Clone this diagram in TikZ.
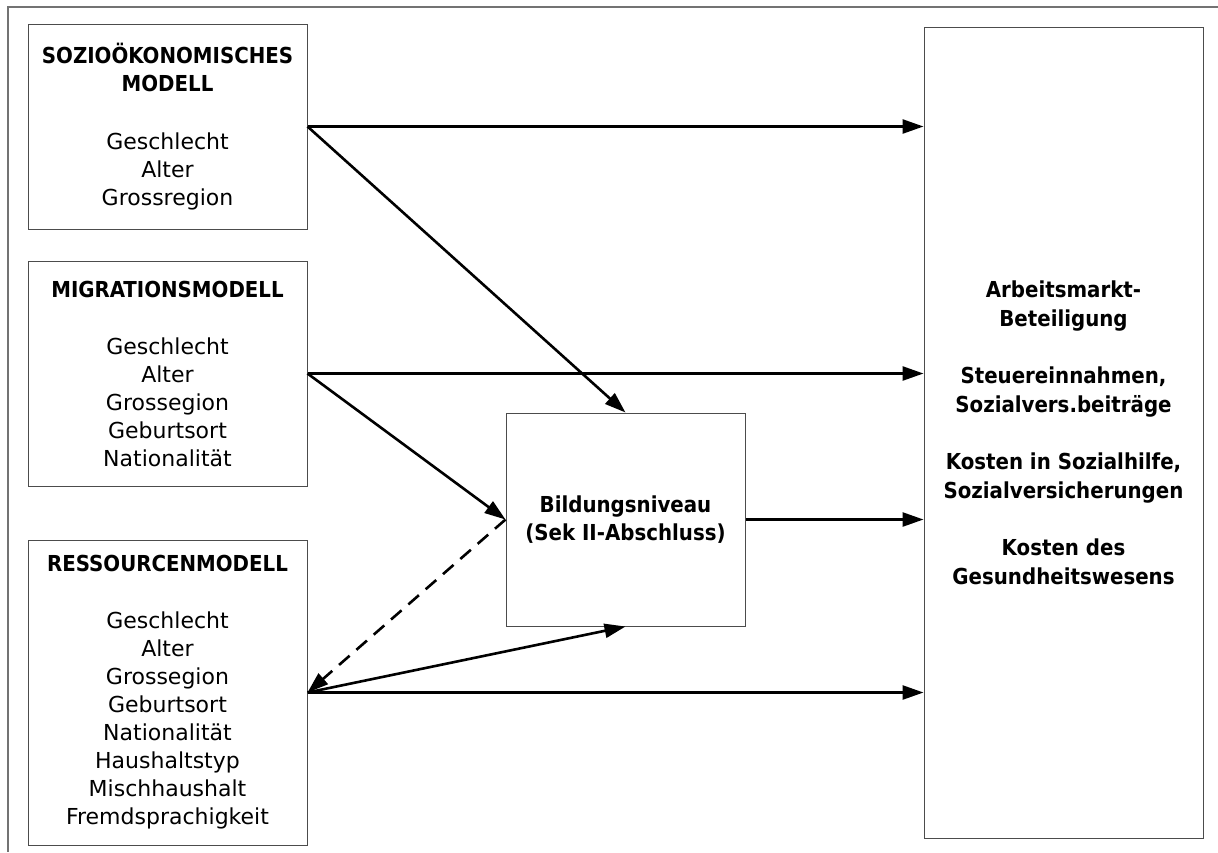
\documentclass[tikz,border=0pt]{standalone}
\usepackage{fontspec}
\setmainfont{DejaVu Sans}
\newfontfamily\hdfont{DejaVu Sans Condensed Bold}
\usetikzlibrary{arrows.meta, positioning}
\newcommand\hd[1]{{\hdfont #1}}

\begin{document}
\begin{tikzpicture}[
  x=0.5pt, y=-0.5pt,
  >={Triangle[length=10.5pt, width=7pt]},
  modnode/.style  = {draw=black!70, line width=0.5pt, inner sep=0pt,
                     minimum width=139.5pt, align=center,
                     font=\fontsize{11}{14}\selectfont},
  midnode/.style  = {draw=black!70, line width=0.5pt, inner sep=0pt,
                     minimum width=119.5pt, minimum height=106.5pt,
                     align=center, font=\hdfont\fontsize{11}{14}\selectfont},
  outnode/.style  = {draw=black!70, line width=0.5pt, inner sep=0pt,
                     minimum width=139.5pt, minimum height=405.5pt,
                     align=center, font=\hdfont\fontsize{11}{14.5}\selectfont},
  arr/.style     = {->, line width=1.3pt},
  dasharr/.style = {arr, dash pattern=on 7pt off 4.5pt},
]
\useasboundingbox (0,0) rectangle (1218,852);

% =============================================
% FRAME
% =============================================
\draw[black!55, line width=1pt] (1218,7) -- (8,7) -- (8,852);

% =============================================
% MODELS (left)
% =============================================
\node[modnode, minimum height=102.5pt] (socio) at (167.5,126.5)
  {\hd{SOZIOÖKONOMISCHES}\\\hd{MODELL}\\[15pt]Geschlecht\\Alter\\Grossregion};
\node[modnode, minimum height=112.5pt] (mig) at (167.5,373.5)
  {\hd{MIGRATIONSMODELL}\\[14.5pt]Geschlecht\\Alter\\Grossegion\\Geburtsort\\Nationalität};
\node[modnode, minimum height=152.5pt] (res) at (167.5,692.5)
  {\hd{RESSOURCENMODELL}\\[14.5pt]Geschlecht\\Alter\\Grossegion\\Geburtsort\\Nationalität\\Haushaltstyp\\Mischhaushalt\\Fremdsprachigkeit};

% =============================================
% EDUCATION (middle) AND OUTCOMES (right)
% =============================================
\node[midnode] (bildung) at (625.5,519.5) {Bildungsniveau\\(Sek II-Abschluss)};
\node[outnode] (outcome) at (1063.5,432.5)
  {Arbeitsmarkt-\\Beteiligung\\[14pt]Steuereinnahmen,\\Sozialvers.beiträge\\[14pt]%
   Kosten in Sozialhilfe,\\Sozialversicherungen\\[14pt]Kosten des\\Gesundheitswesens};

% =============================================
% ARROWS
% =============================================
\draw[arr] (socio.east) -- (socio.east -| outcome.west);
\draw[arr] (socio.east) -- (bildung.north);
\draw[arr] (mig.east)   -- (mig.east -| outcome.west);
\draw[arr] (mig.east)   -- (bildung.west);
\draw[dasharr] (bildung.west) -- (res.east);
\draw[arr] (res.east)   -- (bildung.south);
\draw[arr] (res.east)   -- (res.east -| outcome.west);
\draw[arr] (bildung.east) -- (bildung.east -| outcome.west);

\end{tikzpicture}
\end{document}
